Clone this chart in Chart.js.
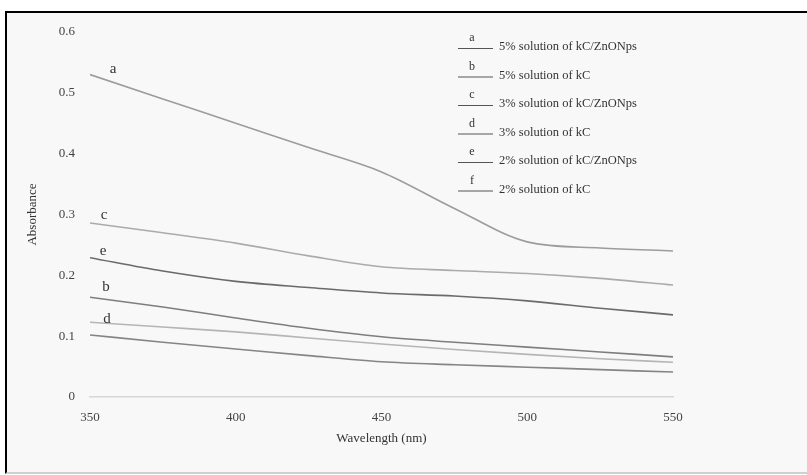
<!DOCTYPE html>
<html>
<head>
<meta charset="utf-8">
<script src="https://cdn.jsdelivr.net/npm/chart.js@4/dist/chart.umd.min.js"></script>
<style>
  html,body{margin:0;padding:0;background:#fff;}
  #frame{position:absolute;left:5px;top:11px;width:802px;height:463px;background:#f8f8f8;
    border-top:2px solid #000;border-left:2px solid #000;border-bottom:2px solid #d0d0d0;box-sizing:border-box;}
  #wrap{position:absolute;left:0;top:0;width:807px;height:475px;}
</style>
</head>
<body>
<div id="frame"></div>
<div id="wrap"><canvas id="c" width="807" height="475"></canvas></div>
<script>
const wavelengths = [350, 375, 400, 425, 450, 475, 500, 525, 550];
const seriesLetters = ['a', 'b', 'c', 'd', 'e', 'f'];
const seriesNames = [
  '5% solution of kC/ZnONps',
  '5% solution of kC',
  '3% solution of kC/ZnONps',
  '3% solution of kC',
  '2% solution of kC/ZnONps',
  '2% solution of kC'
];
const seriesA = [0.530, 0.490, 0.450, 0.410, 0.370, 0.310, 0.255, 0.245, 0.240];
const seriesB = [0.164, 0.148, 0.130, 0.113, 0.099, 0.090, 0.082, 0.074, 0.066];
const seriesC = [0.286, 0.270, 0.253, 0.232, 0.214, 0.208, 0.203, 0.195, 0.184];
const seriesD = [0.123, 0.115, 0.107, 0.097, 0.087, 0.078, 0.070, 0.063, 0.057];
const seriesE = [0.229, 0.207, 0.190, 0.180, 0.171, 0.166, 0.158, 0.146, 0.135];
const seriesF = [0.102, 0.090, 0.079, 0.068, 0.058, 0.053, 0.049, 0.045, 0.041];
const yTicks = [0, 0.1, 0.2, 0.3, 0.4, 0.5, 0.6];
const xTicks = [350, 400, 450, 500, 550];

const allSeries = [seriesA, seriesB, seriesC, seriesD, seriesE, seriesF];
const lineColors = ['#9c9c9c', '#7e7e7e', '#ababab', '#b5b5b5', '#6a6a6a', '#858585'];
// offsets of the in-plot letter labels from each series' first point (px)
const letterOffsets = {a:[23,-6], b:[16,-10], c:[14,-8], d:[17,-3], e:[13,-7], f:null};

const serif = '"Liberation Serif", "DejaVu Serif", serif';

const datasets = allSeries.map((vals, i) => ({
  label: seriesNames[i],
  data: vals.map((v, j) => ({x: wavelengths[j], y: v})),
  borderColor: lineColors[i],
  borderWidth: 1.6,
  pointRadius: 0,
  tension: 0.4,
  cubicInterpolationMode: 'monotone',
  fill: false
}));

const annot = {
  id: 'annot',
  afterDatasetsDraw(chart) {
    const ctx = chart.ctx;
    ctx.save();
    ctx.font = '15px ' + serif;
    ctx.fillStyle = '#333';
    ctx.textAlign = 'center';
    ctx.textBaseline = 'middle';
    seriesLetters.forEach((l, i) => {
      const off = letterOffsets[l];
      if (!off) return;
      const p = chart.getDatasetMeta(i).data[0];
      ctx.fillText(l, p.x + off[0], p.y + off[1]);
    });
    // legend
    const lx0 = 458, lx1 = 493, tx = 499, y0 = 47, dy = 28.5;
    seriesLetters.forEach((l, i) => {
      const y = y0 + i * dy;
      ctx.strokeStyle = '#555';
      ctx.lineWidth = 1;
      ctx.beginPath();
      ctx.moveTo(lx0, y + 1.5);
      ctx.lineTo(lx1, y + 1.5);
      ctx.stroke();
      ctx.font = '12px ' + serif;
      ctx.fillStyle = '#333';
      ctx.textAlign = 'center';
      ctx.fillText(l, 472, y - 9);
      ctx.font = '12.5px ' + serif;
      ctx.textAlign = 'left';
      ctx.fillText(seriesNames[i], tx, y);
    });
    ctx.restore();
  }
};

new Chart(document.getElementById('c'), {
  type: 'line',
  data: { datasets },
  options: {
    responsive: false,
    animation: false,
    layout: { padding: { left: 0, right: 134, top: 32, bottom: 0 } },
    plugins: { legend: { display: false }, tooltip: { enabled: false } },
    scales: {
      x: {
        type: 'linear',
        min: 350, max: 550,
        afterFit(s) { s.height = 78; },
        afterBuildTicks(s) { s.ticks = xTicks.map(v => ({value: v})); },
        grid: { display: false, drawTicks: false },
        border: { display: true, color: '#d6d6d6', width: 1.5 },
        ticks: { padding: 13, color: '#444', font: { family: serif, size: 13 } },
        title: { display: true, text: 'Wavelength (nm)', color: '#333', padding: { top: 0, bottom: 29 },
                 font: { family: serif, size: 13 } }
      },
      y: {
        min: 0, max: 0.6,
        afterFit(s) { s.width = 90; },
        afterBuildTicks(s) { s.ticks = yTicks.map(v => ({value: v})); },
        grid: { display: false, drawTicks: false },
        border: { display: false },
        ticks: { padding: 15, color: '#444', font: { family: serif, size: 13 },
                 callback: v => String(Math.round(v * 10) / 10) },
        title: { display: true, text: 'Absorbance', color: '#333', padding: { top: 25, bottom: 0 },
                 font: { family: serif, size: 13 } }
      }
    }
  },
  plugins: [annot]
});
</script>
</body>
</html>
